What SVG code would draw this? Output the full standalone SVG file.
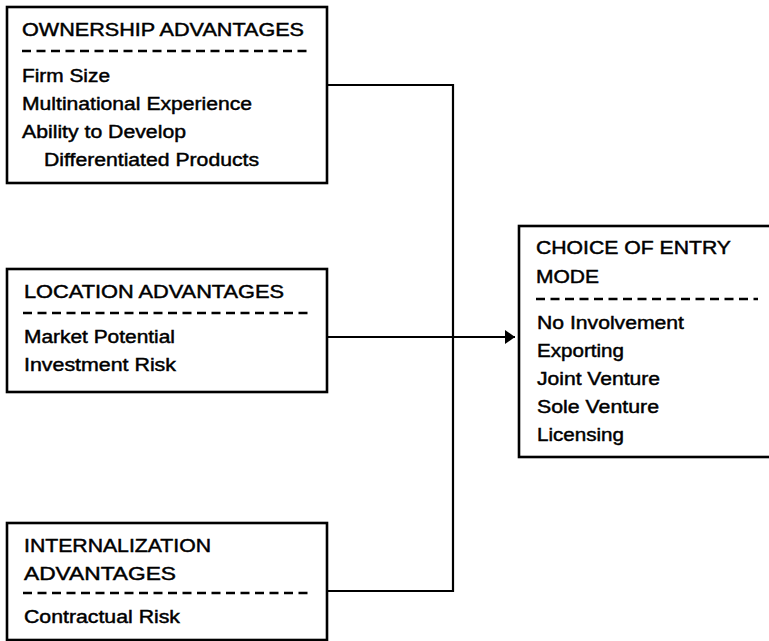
<svg xmlns="http://www.w3.org/2000/svg" width="769" height="641" viewBox="0 0 769 641">
<defs>
<style>
.box{fill:#fff;stroke:#000;stroke-width:2.6}
.dash{stroke:#000;stroke-width:2.6;stroke-dasharray:9 5.5;fill:none}
.t{font-family:"Liberation Sans",Arial,Helvetica,sans-serif;font-size:18px;fill:#000;stroke:#000;stroke-width:0.45}
.con{fill:none;stroke:#000;stroke-width:2.2}
</style>
<marker id="arr" viewBox="0 0 10 14" refX="10" refY="7" markerWidth="10" markerHeight="14" markerUnits="userSpaceOnUse" orient="auto">
<path d="M0,0 L10,7 L0,14 Z" fill="#000"/>
</marker>
</defs>
<rect width="769" height="641" fill="#fff"/>
<g id="connectors">
<path class="con" d="M327,85 H453 V591 H327"/>
<path class="con" d="M327,337 H515" marker-end="url(#arr)"/>
</g>
<g id="ownership">
<rect class="box" x="7" y="7" width="320" height="176"/>
<text class="t" x="22" y="36" textLength="282" lengthAdjust="spacingAndGlyphs">OWNERSHIP ADVANTAGES</text>
<line class="dash" x1="22" y1="51" x2="312" y2="51"/>
<text class="t" x="22" y="82" textLength="88" lengthAdjust="spacingAndGlyphs">Firm Size</text>
<text class="t" x="22" y="110" textLength="230" lengthAdjust="spacingAndGlyphs">Multinational Experience</text>
<text class="t" x="22" y="138" textLength="164" lengthAdjust="spacingAndGlyphs">Ability to Develop</text>
<text class="t" x="44" y="166" textLength="215" lengthAdjust="spacingAndGlyphs">Differentiated Products</text>
</g>
<g id="location">
<rect class="box" x="7" y="269" width="320" height="123"/>
<text class="t" x="24" y="298" textLength="260" lengthAdjust="spacingAndGlyphs">LOCATION ADVANTAGES</text>
<line class="dash" x1="23" y1="313" x2="312" y2="313"/>
<text class="t" x="24" y="343" textLength="151" lengthAdjust="spacingAndGlyphs">Market Potential</text>
<text class="t" x="24" y="371" textLength="152" lengthAdjust="spacingAndGlyphs">Investment Risk</text>
</g>
<g id="internalization">
<rect class="box" x="7" y="523" width="320" height="117"/>
<text class="t" x="24" y="552" textLength="187" lengthAdjust="spacingAndGlyphs">INTERNALIZATION</text>
<text class="t" x="24" y="580" textLength="152" lengthAdjust="spacingAndGlyphs">ADVANTAGES</text>
<line class="dash" x1="23" y1="593" x2="312" y2="593"/>
<text class="t" x="24" y="623" textLength="156" lengthAdjust="spacingAndGlyphs">Contractual Risk</text>
</g>
<g id="entry-mode">
<rect class="box" x="519" y="226" width="260" height="231"/>
<text class="t" x="536" y="254" textLength="195" lengthAdjust="spacingAndGlyphs">CHOICE OF ENTRY</text>
<text class="t" x="536" y="283" textLength="63" lengthAdjust="spacingAndGlyphs">MODE</text>
<line class="dash" x1="536" y1="299" x2="758" y2="299"/>
<text class="t" x="537" y="329" textLength="147" lengthAdjust="spacingAndGlyphs">No Involvement</text>
<text class="t" x="537" y="357" textLength="87" lengthAdjust="spacingAndGlyphs">Exporting</text>
<text class="t" x="537" y="385" textLength="123" lengthAdjust="spacingAndGlyphs">Joint Venture</text>
<text class="t" x="537" y="413" textLength="122" lengthAdjust="spacingAndGlyphs">Sole Venture</text>
<text class="t" x="537" y="441" textLength="87" lengthAdjust="spacingAndGlyphs">Licensing</text>
</g>
</svg>
